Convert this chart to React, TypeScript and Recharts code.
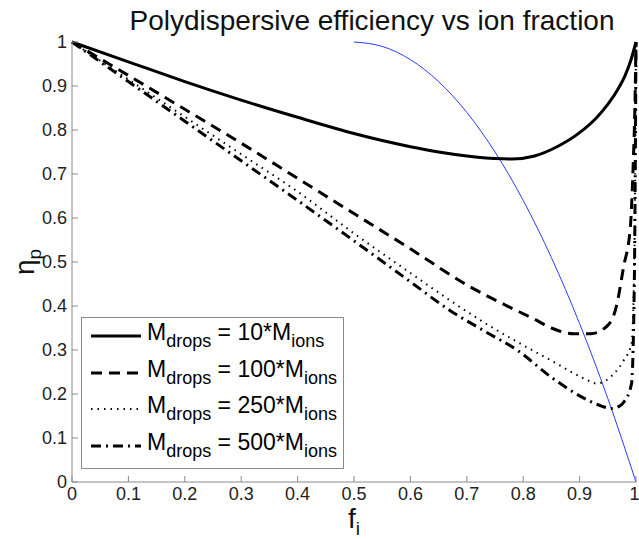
import { LineChart, Line, XAxis, YAxis, Legend } from 'recharts';

const xTicks = [0, 0.1, 0.2, 0.3, 0.4, 0.5, 0.6, 0.7, 0.8, 0.9, 1];
const yTicks = [0, 0.1, 0.2, 0.3, 0.4, 0.5, 0.6, 0.7, 0.8, 0.9, 1];

// M_drops = 10*M_ions
const f10 = [0, 0.1, 0.2, 0.3, 0.4, 0.5, 0.55, 0.6, 0.65, 0.7, 0.75, 0.78, 0.82, 0.86, 0.9, 0.93, 0.95, 0.97, 0.98, 0.99, 1];
const eta10 = [1, 0.955, 0.91, 0.868, 0.829, 0.792, 0.776, 0.762, 0.75, 0.741, 0.735, 0.734, 0.741, 0.762, 0.794, 0.828, 0.858, 0.897, 0.922, 0.955, 1];

// M_drops = 100*M_ions
const f100 = [0, 0.1, 0.2, 0.3, 0.4, 0.5, 0.6, 0.7, 0.77, 0.82, 0.85, 0.89, 0.92, 0.95, 0.965, 0.978, 0.99, 0.995, 0.998, 1];
const eta100 = [1, 0.924, 0.847, 0.77, 0.69, 0.61, 0.53, 0.448, 0.401, 0.37, 0.35, 0.337, 0.337, 0.356, 0.398, 0.489, 0.58, 0.72, 0.85, 1];

// M_drops = 250*M_ions
const f250 = [0, 0.1, 0.2, 0.3, 0.4, 0.5, 0.6, 0.67, 0.73, 0.79, 0.85, 0.91, 0.93, 0.96, 0.978, 0.992, 0.997, 1];
const eta250 = [1, 0.915, 0.83, 0.745, 0.66, 0.565, 0.475, 0.413, 0.363, 0.318, 0.276, 0.234, 0.224, 0.245, 0.276, 0.314, 0.5, 1];

// M_drops = 500*M_ions
const f500 = [0, 0.1, 0.2, 0.3, 0.4, 0.5, 0.6, 0.67, 0.73, 0.79, 0.85, 0.91, 0.94, 0.955, 0.97, 0.978, 0.992, 0.997, 1];
const eta500 = [1, 0.91, 0.82, 0.73, 0.64, 0.548, 0.455, 0.39, 0.344, 0.299, 0.238, 0.189, 0.172, 0.167, 0.172, 0.181, 0.223, 0.45, 1];

// blue reference curve
const fBlue = [0.5, 0.55, 0.6, 0.65, 0.7, 0.75, 0.8, 0.85, 0.9, 0.95, 1];
const etaBlue = [1, 0.99, 0.96, 0.91, 0.84, 0.75, 0.64, 0.51, 0.36, 0.19, 0];

const series = [
  { key: '10', f: f10, eta: eta10, dash: undefined, width: 3 },
  { key: '100', f: f100, eta: eta100, dash: '11 7', width: 3 },
  { key: '250', f: f250, eta: eta250, dash: '1.5 5', width: 2 },
  { key: '500', f: f500, eta: eta500, dash: '10 5 2 5', width: 3 },
];

const toPts = (f: number[], eta: number[]) => f.map((x, i) => ({ f: x, eta: eta[i] }));

const FONT = '"Liberation Sans", Arial, Helvetica, sans-serif';
const AXIS = '#8a8a8a';
const fmt = (v: number) => (v === 0 || v === 1 ? String(v) : v.toFixed(1));
const subStyle = { fontSize: 18, verticalAlign: 'baseline', position: 'relative' as const, top: 7 };

function LegendBox() {
  return (
    <div style={{ border: `1.5px solid ${AXIS}`, background: '#fff', padding: '0px 6px 4px 8px', fontFamily: FONT }}>
      {series.map((s) => (
        <div key={s.key} style={{ display: 'flex', alignItems: 'center', height: 36.5 }}>
          <svg width={52} height={10} style={{ marginRight: 5 }}>
            <line x1={1} y1={5} x2={51} y2={5} stroke="#000" strokeWidth={s.width} strokeDasharray={s.dash} />
          </svg>
          <span style={{ fontSize: 23, color: '#000', whiteSpace: 'nowrap', lineHeight: '26px', position: 'relative', top: -3 }}>
            M<span style={subStyle}>drops</span> = {s.key}*M<span style={subStyle}>ions</span>
          </span>
        </div>
      ))}
    </div>
  );
}

export default function App() {
  return (
    <div style={{ position: 'absolute', left: 0, top: 0, width: 639, height: 539, background: '#fff', fontFamily: FONT }}>
      <div style={{ position: 'absolute', left: 100, width: 544, top: 5, textAlign: 'center', fontSize: 28, color: '#111', zIndex: 2, whiteSpace: 'nowrap' }}>
        Polydispersive efficiency vs ion fraction
      </div>
      <LineChart width={639} height={539} margin={{ top: 42, right: 3, bottom: 0, left: 0 }}>
        <XAxis dataKey="f" type="number" domain={[0, 1]} ticks={xTicks} tickFormatter={fmt}
          stroke={AXIS} tickSize={-6} tickMargin={11} height={57} allowDuplicatedCategory={false}
          tick={{ fill: '#222', fontSize: 18, fontFamily: FONT }}
          label={{
            content: () => (
              <text x={354} y={528} textAnchor="middle" fontFamily={FONT} fontSize={28} fill="#111">
                f<tspan fontSize={19} dy={7}>i</tspan>
              </text>
            ),
          }} />
        <XAxis xAxisId="top" orientation="top" type="number" domain={[0, 1]} ticks={xTicks}
          stroke={AXIS} tickSize={-6} height={0} tickFormatter={() => ''} />
        <YAxis dataKey="eta" type="number" domain={[0, 1]} ticks={yTicks} tickFormatter={fmt}
          stroke={AXIS} tickSize={-6} tickMargin={11} width={72}
          tick={{ fill: '#222', fontSize: 18, fontFamily: FONT }}
          label={{
            content: () => (
              <text x={0} y={0} transform="translate(34,262) rotate(-90)" textAnchor="middle" fontFamily={FONT} fontSize={28} fill="#111">
                η<tspan fontSize={19} dy={7}>p</tspan>
              </text>
            ),
          }} />
        <YAxis yAxisId="right" orientation="right" type="number" domain={[0, 1]} ticks={yTicks}
          stroke={AXIS} tickSize={-6} width={0} tickFormatter={() => ''} />
        <Legend layout="vertical" align="center" verticalAlign="middle" content={() => <LegendBox />}
          wrapperStyle={{ left: 81, top: 317, width: 'auto', height: 'auto' }} />
        <Line data={toPts(fBlue, etaBlue)} dataKey="eta" type="monotone" stroke="#2a3cff" strokeWidth={1}
          dot={false} isAnimationActive={false} legendType="none" />
        {series.map((s) => (
          <Line key={s.key} data={toPts(s.f, s.eta)} dataKey="eta" type="monotone" stroke="#000"
            strokeWidth={s.width} strokeDasharray={s.dash} dot={false} isAnimationActive={false} />
        ))}
      </LineChart>
    </div>
  );
}
